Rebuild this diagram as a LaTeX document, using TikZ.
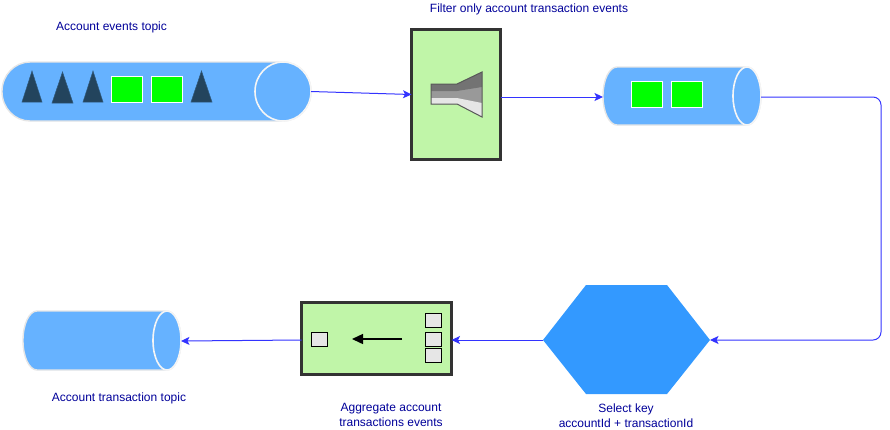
\documentclass[tikz,border=0pt]{standalone}
\usepackage{fontspec}
\setmainfont{Liberation Sans}
\usetikzlibrary{arrows.meta}
\definecolor{cyl}{HTML}{66B2FF}
\definecolor{cylline}{HTML}{E6E6E6}
\definecolor{boxfill}{HTML}{C0F5A8}
\definecolor{boxline}{HTML}{333333}
\definecolor{hexfill}{HTML}{3399FF}
\definecolor{tri}{HTML}{23445D}
\definecolor{txt}{HTML}{000099}
\definecolor{conn}{HTML}{3333FF}
\definecolor{grn}{HTML}{00FF00}
\definecolor{chip}{HTML}{E6E6E6}
\tikzset{
  x=1pt,y=-1pt,
  area/.style={inner sep=0pt,outer sep=0pt,minimum width=#1},
  label text/.style={text=txt,font=\fontsize{12}{15}\selectfont,align=center,inner sep=0pt},
  link/.style={draw=conn,line width=1pt,-{Stealth[length=8.5pt,width=8pt,inset=2pt]}},
  procbox/.style={draw=boxline,fill=boxfill,line width=2.4pt,inner sep=0pt,outer sep=0pt},
  greenbox/.style={draw=white,fill=grn,line width=0.8pt,inner sep=0pt,minimum width=31pt,minimum height=26pt},
  chipbox/.style={draw=black,fill=chip,line width=0.8pt,inner sep=0pt,minimum width=16.5pt,minimum height=14pt},
  triangleshape/.style={fill=tri,draw=tri!80!cyl,line width=0.5pt},
  cylbody/.style={fill=cyl,draw=cylline,line width=1.4pt},
  cylcap/.style={fill=cyl,draw=cylline!40!white,line width=1.6pt}
}
\newcommand{\cylshape}[5]{% x1,x2,y1,y2,rx
  \path[cylbody] (#1+#5,#3) -- (#2-#5,#3)
    .. controls (#2-0.45*#5,#3) and (#2,{#3+0.22*(#4-#3)}) .. (#2,{(#3+#4)/2})
    .. controls (#2,{#4-0.22*(#4-#3)}) and (#2-0.45*#5,#4) .. (#2-#5,#4)
    -- (#1+#5,#4)
    .. controls (#1+0.45*#5,#4) and (#1,{#4-0.22*(#4-#3)}) .. (#1,{(#3+#4)/2})
    .. controls (#1,{#3+0.22*(#4-#3)}) and (#1+0.45*#5,#3) .. (#1+#5,#3) -- cycle;
  \path[cylcap] (#2-#5,{(#3+#4)/2}) ellipse [x radius=#5pt,y radius={(#4-#3)/2*1pt}];
}
\begin{document}
\begin{tikzpicture}
\useasboundingbox (0,0) rectangle (890,429);
% cylinders
\cylshape{2}{311}{62}{121}{28}
\cylshape{603}{761}{67}{125}{14}
\cylshape{23}{181}{311}{370}{14}
\node[area=309pt,minimum height=59pt] (topicA) at (156.5,91.5) {};
\node[area=158pt,minimum height=58pt] (topicB) at (682,96.5) {};
\node[area=158pt,minimum height=59pt] (topicC) at (102,340.5) {};
% triangles
\path[triangleshape] (22,102) -- (32,71) -- (42,102) -- cycle;
\path[triangleshape] (52,103) -- (62.5,72) -- (73,103) -- cycle;
\path[triangleshape] (83,102) -- (93,71) -- (103,102) -- cycle;
\path[triangleshape] (191,102) -- (201.5,71) -- (212,102) -- cycle;
\node[greenbox] (ga) at (126.5,89) {};
\node[greenbox] (gb) at (166.5,89) {};
\node[greenbox] (gc) at (646.5,94) {};
\node[greenbox] (gd) at (686.5,94) {};
% filter
\node[procbox,minimum width=89pt,minimum height=130pt] (filter) at (456,94.5) {};
\fill[black!40] (431,84) -- (457,84) -- (482,72) -- (482,117) -- (457,104) -- (431,104) -- cycle;
\fill[black!55] (431,84) -- (457,84) -- (482,72) -- (482,87) -- (457,91) -- (431,91) -- cycle;
\fill[chip] (431,98) -- (457,98) -- (482,103) -- (482,117) -- (457,104) -- (431,104) -- cycle;
\draw[black!65,line width=1pt] (431,84) -- (457,84) -- (482,72) -- (482,117) -- (457,104) -- (431,104) -- cycle;
% aggregate
\node[procbox,minimum width=150pt,minimum height=72pt] (agg) at (376.5,338.5) {};
\node[chipbox] (ca) at (319.5,339) {};
\node[chipbox] (cb) at (433.5,320) {};
\node[chipbox] (cc) at (433.5,339) {};
\node[chipbox] (cd) at (433.5,355.5) {};
\coordinate (flowfrom) at (402,339);
\coordinate (flowto) at (352,339);
\draw[line width=1.4pt,black,-{Triangle[length=11pt,width=10pt]}] (flowfrom) -- (flowto);
% hexagon
\node[area=167pt,minimum height=109pt] (hex) at (626.5,339.5) {};
\fill[hexfill] (543,340) -- (586,285) -- (667,285) -- (710,340) -- (667,394) -- (586,394) -- cycle;
% connectors
\draw[link] (topicA.east) -- (filter.west);
\coordinate (fOut) at (filter.east |- 0,97);
\coordinate (bIn) at (topicB.west |- 0,97);
\draw[link] (fOut) -- (bIn);
\coordinate (bOut) at (topicB.east |- 0,97);
\coordinate (cornerA) at (881,97);
\coordinate (cornerB) at (881,340);
\draw[link,rounded corners=8pt] (bOut) -- (cornerA) -- (cornerB) -- (hex.east |- 0,340);
\draw[link] (hex.west |- 0,340) -- (agg.east |- 0,340);
\coordinate (cIn) at (topicC.east |- 0,341);
\draw[link] (agg.west |- 0,340) -- (cIn);
% labels
\node[label text] (t1) at (111.5,27.5) {Account events topic};
\node[label text] (t2) at (529,9.5) {Filter only account transaction events};
\node[label text] (t3) at (119,398.5) {Account transaction topic};
\node[label text] (t4) at (391,414.5) {Aggregate account\\transactions events};
\node[label text] (t5) at (626,416) {Select key\\accountId + transactionId};
\end{tikzpicture}
\end{document}
